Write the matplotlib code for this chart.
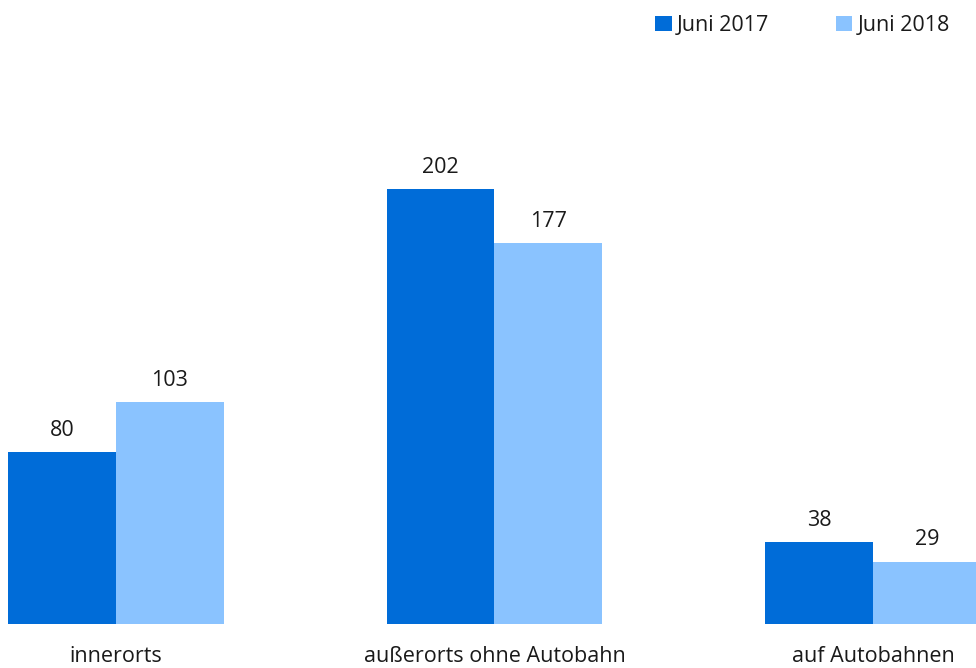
import matplotlib
matplotlib.use("Agg")
import matplotlib.pyplot as plt
import numpy as np

plt.rcParams['font.family'] = ['Open Sans', 'DejaVu Sans']

categories = ["innerorts", "außerorts ohne Autobahn", "auf Autobahnen"]
series_names = ["Juni 2017", "Juni 2018"]
values_2017 = [80, 202, 38]
values_2018 = [103, 177, 29]
colors = ["#006CD8", "#8AC3FF"]

fig = plt.figure(figsize=(9.76, 6.68), dpi=100)
ax = fig.add_axes([0, 44/668, 1, 624/668])

x = np.arange(len(categories))
w = 108/379
b1 = ax.bar(x - w/2, values_2017, w, color=colors[0], label=series_names[0])
b2 = ax.bar(x + w/2, values_2018, w, color=colors[1], label=series_names[1])

for bars, vals in ((b1, values_2017), (b2, values_2018)):
    for r, v in zip(bars, vals):
        ax.annotate(str(v), (r.get_x() + r.get_width()/2, v), xytext=(0, 8),
                    textcoords="offset points", ha="center", va="bottom",
                    fontsize=15.5, color="#1a1a1a")

ax.set_xlim(-116/379, 2 + (976-873)/379)
ax.set_ylim(0, 624/(435/202))
ax.set_xticks(x)
ax.set_xticklabels(categories, fontsize=15.5, color="#1a1a1a")
ax.tick_params(axis='x', length=0, pad=16)
ax.set_yticks([])
for s in ax.spines.values():
    s.set_visible(False)

leg = fig.legend(handles=[b1, b2], labels=series_names, loc="upper right",
                 bbox_to_anchor=(950/976, 1 - 15/668), ncol=2, frameon=False,
                 fontsize=15.5, handlelength=0.75, handleheight=0.75,
                 handletextpad=0.25, columnspacing=3.1, borderaxespad=0,
                 borderpad=0)
for t in leg.get_texts():
    t.set_color("#1a1a1a")

fig.savefig("out.png", dpi=100)
